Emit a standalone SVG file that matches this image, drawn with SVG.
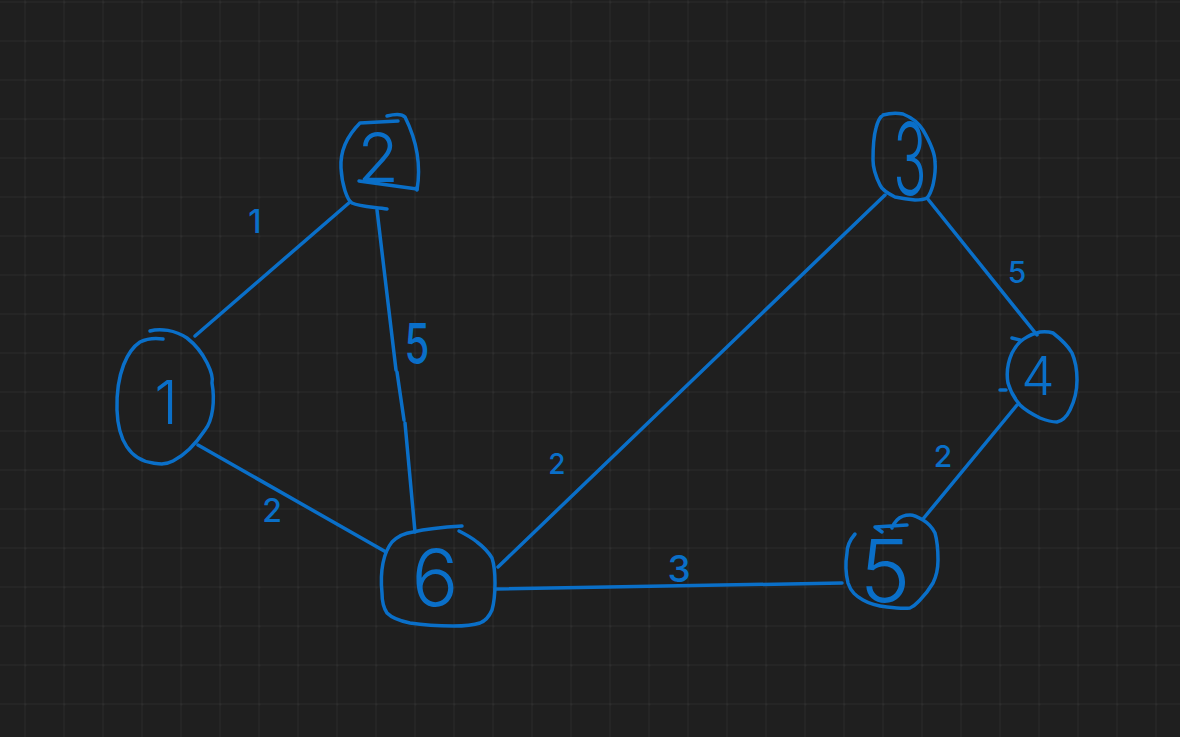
<svg xmlns="http://www.w3.org/2000/svg" width="1180" height="737" viewBox="0 0 1180 737">
  <defs>
    <pattern id="grid" patternUnits="userSpaceOnUse" x="24.5" y="1.5" width="39" height="39">
      <rect x="0" y="0" width="39" height="39" fill="#1f1f1f"/>
      <rect x="0" y="0" width="1" height="39" fill="#2b2b2b"/>
      <rect x="0" y="0" width="39" height="1" fill="#2b2b2b"/>
      <rect x="-0.5" y="-0.5" width="2" height="2" fill="#353535"/>
    </pattern>
    <style>
      .ink { fill: none; stroke: #0a6fc8; stroke-width: 3.5; stroke-linecap: round; stroke-linejoin: round; }
      .lbl { fill: #0a6fc8; font-family: Inter, "Liberation Sans", sans-serif; font-weight: 300; text-anchor: middle; }
      .elbl { fill: #0a6fc8; font-family: Inter, "Liberation Sans", sans-serif; font-weight: 500; text-anchor: middle; }
    </style>
  </defs>
  <rect width="1180" height="737" fill="#1f1f1f"/>
  <rect width="1180" height="737" fill="url(#grid)"/>

  <g id="connectors" class="ink">
    <path d="M195,336 L350,202"/>
    <path d="M377,210 L396,370 M397,372 L404,420 M405,423 L415,532"/>
    <path d="M198,445 L386,552"/>
    <path d="M498,567 L885,195"/>
    <path d="M927,198 L1037,335"/>
    <path d="M1017,405 L923,519"/>
    <path d="M495,589 L842,583"/>
  </g>

  <g id="edge-labels" class="elbl">
    <text x="255" y="233" font-size="32">1</text>
    <text transform="translate(417,364) scale(0.72,1)" font-size="56">5</text>
    <text x="272" y="522" font-size="32">2</text>
    <text x="557" y="474" font-size="28">2</text>
    <text x="679" y="582" font-size="37">3</text>
    <text x="1017" y="283" font-size="30">5</text>
    <text x="943" y="467" font-size="30">2</text>
  </g>

  <g id="node-1">
    <path class="ink" d="M150,331 C160,328 175,330 187,338 C205,352 214,375 212,383 C215,400 213,420 205,430 C197,442 185,455 173,461 C165,465 160,464 153,463 C130,460 118,440 117,410 C116,372 128,350 140,342 C148,338 156,338 163,339"/>
    <text class="lbl" x="166" y="424" font-size="60">1</text>
  </g>

  <g id="node-2">
    <path class="ink" d="M360,123 L398,121 M387,116 C395,114 402,114 405,117 C414,135 422,160 417,190 L416,188 M360,123 C348,135 340,150 341,168 C342,185 347,200 352,203 C360,207 375,207 387,209"/>
    <path class="ink" d="M359,181 L417,189"/>
    <text class="lbl" x="378" y="182" font-size="68">2</text>
  </g>

  <g id="node-3">
    <path class="ink" d="M883,115 C890,113 898,113 903,114 C913,118 920,125 923,130 C930,142 935,152 935,162 C936,172 934,180 933,185 C931,192 929,196 927,198 C923,200 920,200 915,200 C905,199 900,198 895,197 C887,193 882,190 880,185 C875,175 873,168 873,160 C873,145 874,135 876,128 C878,120 880,117 883,115"/>
    <text class="lbl" transform="translate(910,195) scale(0.55,1)" font-size="100">3</text>
  </g>

  <g id="node-4">
    <path class="ink" d="M1040,332 C1047,331 1050,332 1053,333 C1062,340 1068,346 1072,353 C1076,362 1077,372 1077,380 C1077,392 1074,402 1070,410 C1067,416 1062,421 1057,422 C1050,422 1045,420 1040,418 C1032,414 1025,410 1020,405 C1014,398 1010,390 1008,383 C1006,372 1008,362 1012,353 C1016,345 1021,340 1027,337 C1032,334 1036,333 1040,332 M1012,338 L1020,340 M1000,390 L1006,390"/>
    <text class="lbl" x="1038" y="395" font-size="53">4</text>
  </g>

  <g id="node-5">
    <path class="ink" d="M855,534 C849,541 847,547 847,553 C845,565 846,575 848,583 C851,592 856,596 863,600 C870,604 878,606 887,607 C895,608 903,609 910,608 C915,606 917,603 920,600 C926,594 930,588 933,583 C937,575 938,568 938,560 C938,550 937,540 935,533 C932,527 928,523 923,520 C918,517 914,515 910,515 C905,515 900,517 897,520 C894,523 893,525 892,528 M875,527 L907,525 M875,527 L882,532"/>
    <text class="lbl" x="885" y="602" font-size="86">5</text>
  </g>

  <g id="node-6">
    <path class="ink" d="M413,532 C430,528 445,527 462,526 M459,531 C465,534 471,537 477,542 C485,548 489,553 492,558 C495,567 495,575 495,583 C495,595 494,603 492,610 C489,617 485,621 480,623 C471,626 462,626 453,626 C438,626 423,625 410,623 C400,621 392,618 387,613 C383,607 382,600 382,593 C381,583 381,573 383,563 C385,553 388,547 392,542 C398,536 405,533 413,532"/>
    <text class="lbl" x="435" y="606" font-size="78">6</text>
  </g>
</svg>
